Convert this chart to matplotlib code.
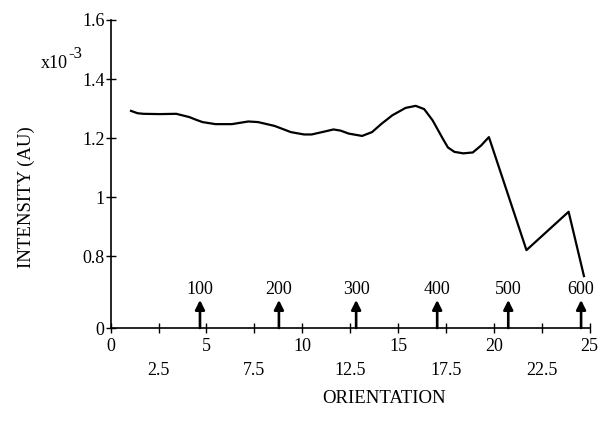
import matplotlib
matplotlib.use("Agg")
import matplotlib.pyplot as plt

# ---------------- data ---------------- #

orientation = [1.06, 1.4, 1.71, 2.56, 3.42, 4.1, 4.45, 4.79, 5.47, 6.32, 6.8, 7.18, 7.69,
               8.55, 9.0, 9.4, 10.09, 10.49, 11.1, 11.63, 12.0, 12.42, 13.12, 13.64,
               14.15, 14.7, 15.39, 15.92, 16.36, 16.8, 17.33, 17.6, 17.94, 18.4, 18.9,
               19.34, 19.55, 19.74, 21.7, 23.9, 24.7]
intensity = [1.292, 1.284, 1.282, 1.281, 1.282, 1.271, 1.262, 1.254, 1.247, 1.247, 1.252,
             1.256, 1.254, 1.241, 1.23, 1.22, 1.212, 1.212, 1.221, 1.229, 1.225, 1.215,
             1.207, 1.22, 1.249, 1.277, 1.302, 1.309, 1.298, 1.26, 1.198, 1.168, 1.153,
             1.148, 1.151, 1.175, 1.19, 1.203, 0.82, 0.95, 0.732]

# marker arrows along the orientation axis
arrow_x = [4.66, 8.78, 12.81, 17.04, 20.75, 24.55]
arrow_labels = ["100", "200", "300", "400", "500", "600"]

# broken y axis: the "0" tick sits just below 0.8
Y_ZERO = 0.556
y_ticks = [Y_ZERO, 0.8, 1.0, 1.2, 1.4, 1.6]
y_tick_labels = ["0", "0.8", "1", "1.2", "1.4", "1.6"]
x_major = [0, 5, 10, 15, 20, 25]
x_minor = [2.5, 7.5, 12.5, 17.5, 22.5]

# ---------------------- plot ---------------------- #

plt.rcParams["font.family"] = ["Liberation Serif", "DejaVu Serif"]

fig = plt.figure(figsize=(6.16, 4.3), dpi=100)
ax = fig.add_axes([0.1797, 0.2372, 0.7776, 0.7163])

ax.plot(orientation, intensity, color="black", lw=1.6)

for x, lab in zip(arrow_x, arrow_labels):
    ax.annotate("", xy=(x, 0.651), xytext=(x, Y_ZERO),
                arrowprops=dict(arrowstyle="-|>", lw=1.9, color="black",
                                mutation_scale=14, shrinkA=0, shrinkB=0))
    ax.text(x, 0.687, lab, ha="center", va="center", fontsize=13)

ax.set_xlim(0, 25)
ax.set_ylim(Y_ZERO, 1.6)

ax.set_yticks(y_ticks)
ax.set_yticklabels(y_tick_labels)
ax.set_xticks(x_major)
ax.set_xticklabels([str(v) for v in x_major])
ax.set_xticks(x_minor, minor=True)
ax.set_xticklabels([str(v) for v in x_minor], minor=True)

ax.tick_params(axis="both", which="both", direction="inout", length=7,
               width=1.0, labelsize=13)
ax.tick_params(axis="y", pad=1)
ax.tick_params(axis="x", which="major", pad=4)
ax.tick_params(axis="x", which="minor", pad=21)

for side in ["top", "right"]:
    ax.spines[side].set_visible(False)
for side in ["left", "bottom"]:
    ax.spines[side].set_linewidth(1.2)

# x10^-3 multiplier, drawn as two texts
ax.text(-0.089, 0.844, "x10", transform=ax.transAxes,
        ha="right", va="baseline", fontsize=13)
ax.text(-0.089, 0.877, "-3", transform=ax.transAxes,
        ha="left", va="baseline", fontsize=12)

fig.text(0.042, 0.542, "INTENSITY (AU)", rotation=90, ha="center", va="center",
         fontsize=13.5)
fig.text(0.623, 0.074, "ORIENTATION", ha="center", va="center", fontsize=13.5)

fig.savefig("out.png", dpi=100)
